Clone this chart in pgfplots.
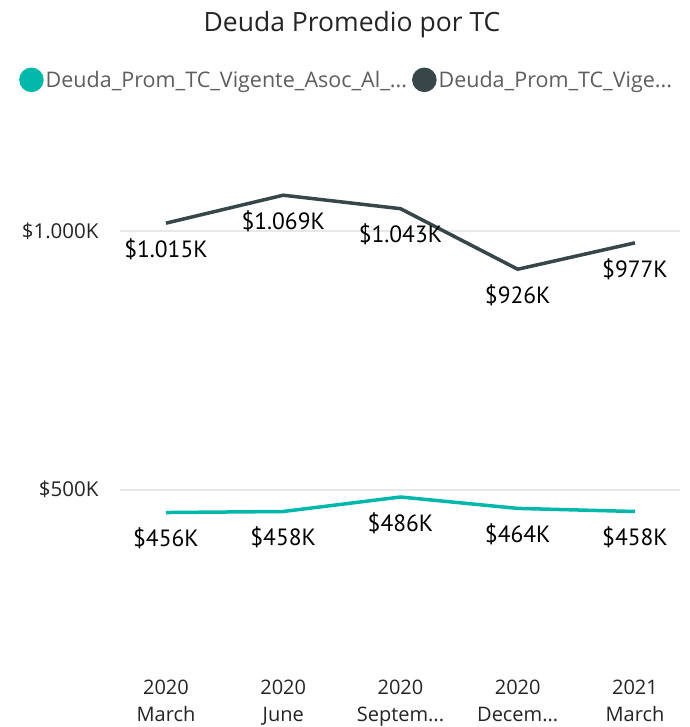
\documentclass[border=0pt]{standalone}
\usepackage{fontspec}
\setmainfont{Open Sans}
\newfontfamily\dinfont{PT Sans}
\usepackage{pgfplots}
\pgfplotsset{compat=1.18}
\usepackage{pgfplotstable}
\definecolor{teal1}{HTML}{01B8AA}
\definecolor{dark1}{HTML}{374649}
\definecolor{gridc}{HTML}{E8E8E8}
\definecolor{txt}{HTML}{252423}
\definecolor{legtxt}{HTML}{605E5C}
\newcommand\dd{...}
\pgfplotstableread{
x y label
0 1015 {\$1.015K}
1 1069 {\$1.069K}
2 1043 {\$1.043K}
3 926 {\$926K}
4 977 {\$977K}
}\darkdata
\pgfplotstableread{
x y label
0 456 {\$456K}
1 458 {\$458K}
2 486 {\$486K}
3 464 {\$464K}
4 458 {\$458K}
}\tealdata
\begin{document}
\begin{tikzpicture}
\path[use as bounding box] (0,0) rectangle (689pt,727pt);
\node[font=\fontsize{26.5}{30}\selectfont, text=txt] at (352pt,702pt) {Deuda Promedio por TC};
\begin{axis}[
  at={(120pt,69pt)}, anchor=south west,
  scale only axis, width=560pt, height=528pt,
  xmin=-0.392, xmax=4.384,
  ymin=175, ymax=1195,
  axis line style={draw=none},
  major tick style={draw=none},
  ymajorgrids, grid style={gridc, line width=1.5pt},
  ytick={500,1000}, yticklabels={\$500K,\$1.000K},
  yticklabel style={font=\fontsize{20.5}{24}\selectfont, text=txt, xshift=-18pt},
  xtick={0,1,2,3,4},
  xticklabels={{2020\\March},{2020\\June},{2020\\Septem\dd},{2020\\Decem\dd},{2021\\March}},
  xticklabel style={font=\fontsize{20}{27}\selectfont, text=txt, align=center, yshift=-18pt},
  legend columns=2,
  legend style={at={(rel axis cs:-0.1857,1.095)}, anchor=west, draw=none, fill=none,
    font=\fontsize{21.5}{24}\selectfont, text=legtxt,
    /tikz/every even column/.append style={column sep=3pt}},
  legend cell align=left,
  nodes near coords, point meta=explicit symbolic,
  every node near coord/.append style={font=\dinfont\fontsize{23.5}{27}\selectfont, text=black, anchor=center, yshift=-26pt},
]
\addplot[teal1, line width=3.5pt, legend image code/.code={\fill[teal1] (0.05,0) circle (10.5pt);}] table[x=x,y=y,meta=label] {\tealdata};
\addlegendentry{Deuda\_Prom\_TC\_Vigente\_Asoc\_Al\_\dd}
\addplot[dark1, line width=3.5pt, legend image code/.code={\fill[dark1] (0.05,0) circle (10.5pt);}] table[x=x,y=y,meta=label] {\darkdata};
\addlegendentry{Deuda\_Prom\_TC\_Vige\dd}
\end{axis}
\end{tikzpicture}
\end{document}
